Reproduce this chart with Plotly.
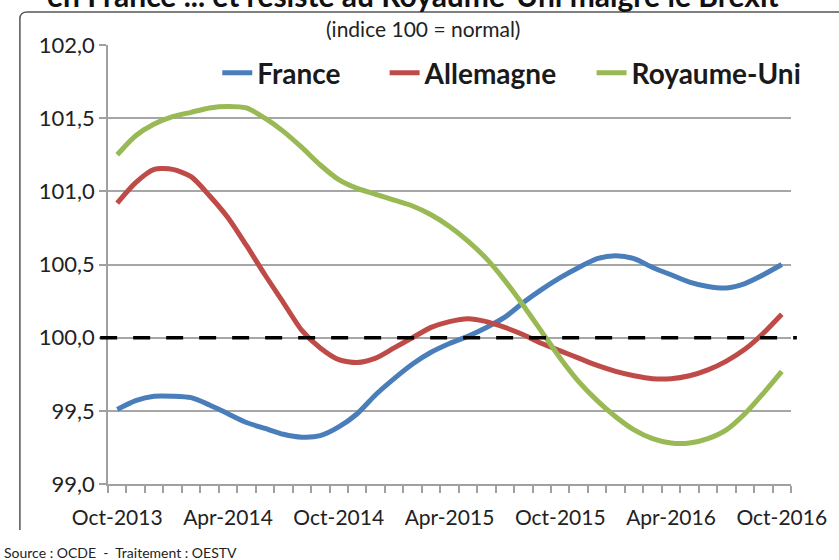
import plotly.graph_objects as go

months = ["Oct-2013", "Nov-2013", "Dec-2013", "Jan-2014", "Feb-2014", "Mar-2014", "Apr-2014",
          "May-2014", "Jun-2014", "Jul-2014", "Aug-2014", "Sep-2014", "Oct-2014", "Nov-2014",
          "Dec-2014", "Jan-2015", "Feb-2015", "Mar-2015", "Apr-2015", "May-2015", "Jun-2015",
          "Jul-2015", "Aug-2015", "Sep-2015", "Oct-2015", "Nov-2015", "Dec-2015", "Jan-2016",
          "Feb-2016", "Mar-2016", "Apr-2016", "May-2016", "Jun-2016", "Jul-2016", "Aug-2016",
          "Sep-2016", "Oct-2016"]

france = [99.51, 99.57, 99.60, 99.60, 99.59, 99.54, 99.48, 99.42, 99.38, 99.34, 99.32, 99.33,
          99.39, 99.48, 99.61, 99.72, 99.82, 99.90, 99.96, 100.01, 100.07, 100.14, 100.24,
          100.33, 100.41, 100.48, 100.54, 100.56, 100.54, 100.48, 100.43, 100.38, 100.35,
          100.34, 100.37, 100.43, 100.50]

allemagne = [100.92, 101.06, 101.15, 101.15, 101.10, 100.97, 100.82, 100.63, 100.43, 100.24,
             100.05, 99.93, 99.85, 99.83, 99.86, 99.93, 100.00, 100.07, 100.11, 100.13, 100.11,
             100.07, 100.02, 99.96, 99.91, 99.86, 99.81, 99.77, 99.74, 99.72, 99.72, 99.74,
             99.78, 99.84, 99.92, 100.03, 100.16]

royaume_uni = [101.25, 101.38, 101.46, 101.51, 101.54, 101.57, 101.58, 101.57, 101.50, 101.41,
               101.30, 101.18, 101.08, 101.02, 100.98, 100.94, 100.90, 100.84, 100.76, 100.66,
               100.54, 100.39, 100.22, 100.04, 99.86, 99.70, 99.57, 99.46, 99.37, 99.31, 99.28,
               99.28, 99.31, 99.37, 99.48, 99.62, 99.77]

y_ticks = [99.0, 99.5, 100.0, 100.5, 101.0, 101.5, 102.0]
x_label_step = 6
reference_level = 100.0

x = list(range(len(months)))
FONT = "Lato, 'Open Sans', sans-serif"

fig = go.Figure()
series = [("France", france, "#4A7EBB", "legend"),
          ("Allemagne", allemagne, "#BE4B48", "legend2"),
          ("Royaume-Uni", royaume_uni, "#98B954", "legend3")]
for name, vals, col, lg in series:
    fig.add_trace(go.Scatter(x=x, y=vals, name=name, mode="lines", showlegend=True,
                             line=dict(color=col, width=5, shape="spline", smoothing=0.7),
                             legend=lg))

legend_common = dict(orientation="h", yanchor="middle", xanchor="left",
                     bgcolor="rgba(0,0,0,0)", font=dict(family=FONT, size=28, color="#1a1a1a",
                                                        weight="bold"))
fig.update_layout(
    showlegend=True,
    legend=dict(x=0.160, y=0.936, **legend_common),
    legend2=dict(x=0.405, y=0.936, **legend_common),
    legend3=dict(x=0.708, y=0.936, **legend_common),
)

# reference line at 100 (white cover over gridline, then black dashes)
fig.add_shape(type="line", xref="paper", yref="y", x0=0, x1=1, y0=reference_level, y1=reference_level,
              line=dict(color="white", width=2.5), layer="between")
fig.add_shape(type="line", xref="paper", yref="y", x0=-0.0115, x1=1.0086,
              y0=reference_level, y1=reference_level,
              line=dict(color="black", width=3.5, dash="17px,16px"), layer="above")

# outer frame (left and top edges)
fig.add_shape(type="path", xref="paper", yref="paper",
              path="M -0.129,-0.105 L -0.129,1.060 Q -0.129,1.075 -0.118,1.075 L 1.1,1.075",
              line=dict(color="#555555", width=1.5))

# clipped title at very top
fig.add_annotation(text="en France ... et résiste au Royaume-Uni malgré le Brexit",
                   xref="paper", yref="paper", x=0.447, y=1.0683, xanchor="center", yanchor="bottom",
                   showarrow=False, font=dict(family=FONT, size=30, color="#111", weight="bold"))
fig.add_annotation(text="(indice 100 = normal)", xref="paper", yref="paper", x=0.461, y=1.0387,
                   xanchor="center", yanchor="middle", showarrow=False,
                   font=dict(family=FONT, size=21, color="#222"))
fig.add_annotation(text="Source : OCDE  -  Traitement : OESTV", xref="paper", yref="paper",
                   x=-0.1547, y=-0.155, xanchor="left", yanchor="middle", showarrow=False,
                   font=dict(family=FONT, size=14, color="#222"))

fig.update_xaxes(range=[-0.5, len(months) - 0.5], tickvals=x[::x_label_step],
                 ticktext=months[::x_label_step], ticks="", showgrid=False, zeroline=False,
                 showline=True, linecolor="#A0A0A0", linewidth=1.5, ticklabeloverflow="allow",
                 ticklabelstandoff=14,
                 tickfont=dict(family=FONT, size=21, color="#222"),
                 minor=dict(ticks="outside", tick0=-0.5, dtick=1, ticklen=7, tickwidth=1.5,
                            tickcolor="#A0A0A0", showgrid=False))
fig.update_yaxes(range=[y_ticks[0], y_ticks[-1]], tickvals=y_ticks, tickformat=".1f",
                 showgrid=True, gridcolor="#A6A6A6", gridwidth=1.5, zeroline=False,
                 showline=True, linecolor="#A0A0A0", linewidth=1.5,
                 ticks="outside", ticklen=7, tickwidth=1.5, tickcolor="#A0A0A0",
                 tickfont=dict(family=FONT, size=22, color="#222"))

fig.update_layout(width=839, height=560, margin=dict(l=108, r=33, t=45, b=76),
                  paper_bgcolor="white", plot_bgcolor="white", separators=", ",
                  font=dict(family=FONT))
fig.write_html("out.html", config={"displayModeBar": False},
               post_script="document.body.style.margin='0';document.body.style.padding='0';")
